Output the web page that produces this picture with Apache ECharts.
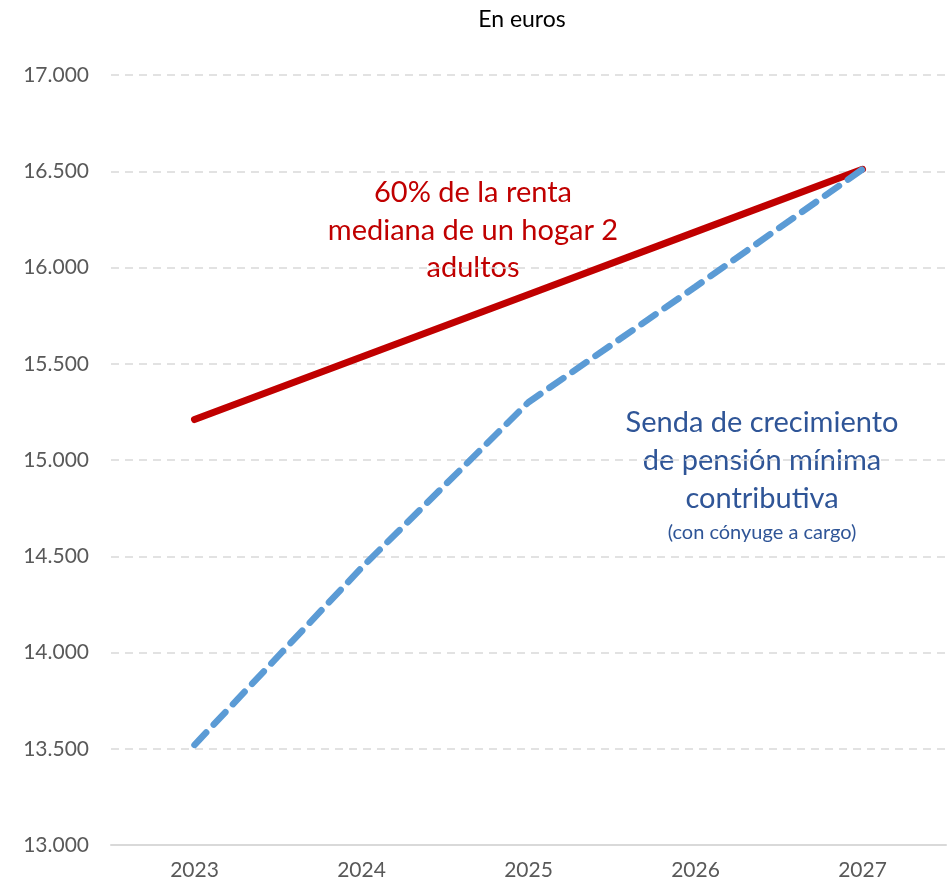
<!DOCTYPE html>
<html>
<head>
<meta charset="utf-8">
<script src="https://cdn.jsdelivr.net/npm/echarts@6/dist/echarts.min.js"></script>
<style>
  html, body { margin: 0; padding: 0; background: #fff; }
  #main { width: 948px; height: 887px; }
</style>
</head>
<body>
<div id="main"></div>
<script>
const years = ['2023', '2024', '2025', '2026', '2027'];
const rentaMediana = [15210, 15535, 15860, 16185, 16510];
const pensionMinima = [13520, 14440, 15300, 15900, 16510];

const myChart = echarts.init(document.getElementById('main'));

const font = 'Lato, "Open Sans", sans-serif';

// 16500 -> "16.500"
const miles = (v) => {
  const s = String(Math.round(v));
  return s.slice(0, s.length - 3) + '.' + s.slice(-3);
};

const option = {
  animation: false,
  textStyle: { fontFamily: font },
  title: {
    text: 'En euros',
    left: 517,
    top: 3,
    textAlign: 'center',
    textStyle: { fontFamily: font, fontSize: 23, fontWeight: 'normal', color: '#000' },
  },
  grid: { left: 111, right: 2, top: 75, bottom: 42, outerBoundsMode: 'none' },
  xAxis: {
    type: 'category',
    data: years,
    boundaryGap: true,
    axisLine: { lineStyle: { color: '#d9d9d9', width: 2 } },
    axisTick: { show: false },
    axisLabel: { color: '#595959', fontSize: 21, margin: 15, fontFamily: font },
  },
  yAxis: {
    type: 'value',
    min: 13000,
    max: 17000,
    interval: 500,
    axisLine: { show: false },
    axisTick: { show: false },
    axisLabel: {
      color: '#595959',
      fontSize: 21,
      margin: 22,
      fontFamily: font,
      formatter: miles,
    },
    splitLine: { lineStyle: { color: '#d9d9d9', type: [8, 6], width: 1.5 } },
  },
  series: [
    {
      name: '60% de la renta mediana',
      type: 'line',
      data: rentaMediana,
      symbol: 'none',
      lineStyle: { color: '#c00000', width: 7, cap: 'round' },
    },
    {
      name: 'Senda pensión mínima',
      type: 'line',
      data: pensionMinima,
      symbol: 'none',
      lineStyle: { color: '#5b9bd5', width: 6.5, type: [17, 11], cap: 'round' },
    },
  ],
  graphic: [
    {
      type: 'text',
      x: 473,
      y: 174,
      style: {
        text: '60% de la renta\nmediana de un hogar 2\nadultos',
        align: 'center',
        fill: '#c00000',
        font: '29px ' + font,
        lineHeight: 37.5,
      },
    },
    {
      type: 'text',
      x: 762,
      y: 404,
      style: {
        text: 'Senda de crecimiento\nde pensión mínima\ncontributiva',
        align: 'center',
        fill: '#2f5597',
        font: '29px ' + font,
        lineHeight: 38,
      },
    },
    {
      type: 'text',
      x: 762,
      y: 523,
      style: {
        text: '(con cónyuge a cargo)',
        align: 'center',
        fill: '#2f5597',
        font: '20px ' + font,
      },
    },
  ],
};

myChart.setOption(option);
</script>
</body>
</html>
